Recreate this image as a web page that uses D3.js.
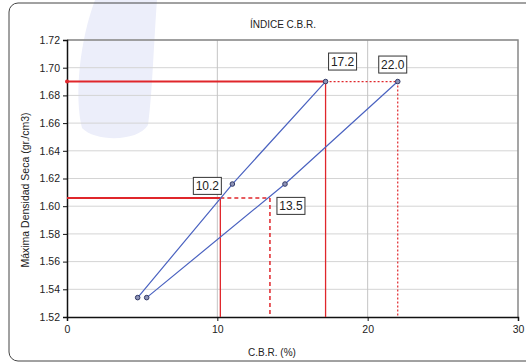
<!DOCTYPE html>
<html>
<head>
<meta charset="utf-8">
<script src="https://cdn.jsdelivr.net/npm/d3@7"></script>
<style>
  body { margin: 0; background: #fff; }
  text { font-family: "Liberation Sans", Arial, sans-serif; fill: #222; }
</style>
</head>
<body>
<div id="chart"></div>
<script>
// données
var cbr1 = [4.7, 11.0, 17.2]
var dens1 = [1.534, 1.616, 1.690]
var cbr2 = [5.3, 14.5, 22.0]
var dens2 = [1.534, 1.616, 1.690]
var yTicks = [1.52, 1.54, 1.56, 1.58, 1.60, 1.62, 1.64, 1.66, 1.68, 1.70, 1.72]
var xTicks = [0, 10, 20, 30]
// lectures CBR (valeur, densité, trait plein ?)
var lectures = [
  {cbr: 17.2, dens: 1.690, solid: true},
  {cbr: 22.0, dens: 1.690, solid: false},
  {cbr: 10.2, dens: 1.606, solid: true},
  {cbr: 13.5, dens: 1.606, solid: false}
]

var width = 526
var height = 363

var svg = d3.select("#chart")
  .append("svg")
    .attr("width", width)
    .attr("height", height)

// tache claire en fond
svg.append("path")
  .attr("d", "M95,0 L157,0 C154,40 152,100 148,125 C138,142 95,142 82,128 C74,95 80,40 95,0 Z")
  .style("fill", "#eceefa")

// cadre extérieur
svg.append("rect")
  .attr("x", 9).attr("y", 3)
  .attr("width", 530).attr("height", 358)
  .attr("rx", 9)
  .style("fill", "none")
  .style("stroke", "#444")
  .style("stroke-width", 1)

var x = d3.scaleLinear().domain([0, 30]).range([67, 518])
var y = d3.scaleLinear().domain([1.52, 1.72]).range([317, 40])

// grille
svg.append("g").selectAll("line")
  .data(yTicks.slice(1))
  .enter().append("line")
    .attr("x1", x(0)).attr("x2", x(30))
    .attr("y1", function(d){ return y(d) }).attr("y2", function(d){ return y(d) })
    .style("stroke", "#d4d4d4").style("stroke-width", 1)
svg.append("g").selectAll("line")
  .data(xTicks.slice(1, 3))
  .enter().append("line")
    .attr("x1", function(d){ return x(d) }).attr("x2", function(d){ return x(d) })
    .attr("y1", y(1.52)).attr("y2", y(1.72))
    .style("stroke", "#c4c4c4").style("stroke-width", 1)

// bord haut et droit
svg.append("path")
  .attr("d", "M" + x(0) + "," + y(1.72) + "H" + x(30) + "V" + y(1.52))
  .style("fill", "none").style("stroke", "#888").style("stroke-width", 1.5)

// axes
var yAxis = svg.append("g")
  .attr("transform", "translate(" + x(0) + ",0)")
  .call(d3.axisLeft(y).tickValues(yTicks).tickFormat(d3.format(".2f")).tickSize(4).tickPadding(3))
var xAxis = svg.append("g")
  .attr("transform", "translate(0," + y(1.52) + ")")
  .call(d3.axisBottom(x).tickValues(xTicks).tickSize(4).tickPadding(5))
;[yAxis, xAxis].forEach(function(a){
  a.select(".domain").style("stroke", "#111").style("stroke-width", 1.5)
  a.selectAll(".tick line").style("stroke", "#111")
  a.selectAll("text").style("font-size", "10.5px").style("font-family", "'Liberation Sans', Arial, sans-serif").style("fill", "#222")
})

// lignes de lecture rouges
var red = "#e0262b"
var l = svg.append("g")
function seg(x1, y1, x2, y2, w, dash) {
  l.append("line")
    .attr("x1", x1).attr("y1", y1).attr("x2", x2).attr("y2", y2)
    .style("stroke", red).style("stroke-width", w)
    .style("stroke-dasharray", dash)
}
lectures.forEach(function(d, i){
  if (d.solid) {
    seg(x(0), y(d.dens), x(d.cbr), y(d.dens), 2, null)
    seg(x(d.cbr), y(d.dens), x(d.cbr), y(1.52), 1.3, null)
  } else {
    var prev = lectures[i - 1]
    var dash = i == 1 ? "2,2" : "4,3"
    seg(x(prev.cbr), y(d.dens), x(d.cbr), y(d.dens), i == 1 ? 1.2 : 1.5, dash)
    seg(x(d.cbr), y(d.dens), x(d.cbr), y(1.52), i == 1 ? 1.2 : 1.5, dash)
  }
})
svg.append("circle").attr("cx", x(0)).attr("cy", y(1.690)).attr("r", 2).style("fill", red)

// courbes
var line = d3.line().x(function(d){ return x(d[0]) }).y(function(d){ return y(d[1]) })
var series = [d3.zip(cbr1, dens1), d3.zip(cbr2, dens2)]
series.forEach(function(s){
  svg.append("path").datum(s)
    .attr("d", line)
    .style("fill", "none").style("stroke", "#4a62c0").style("stroke-width", 1.2)
  svg.append("g").selectAll("circle")
    .data(s).enter().append("circle")
      .attr("cx", function(d){ return x(d[0]) })
      .attr("cy", function(d){ return y(d[1]) })
      .attr("r", 2.3)
      .style("fill", "#8d93b8").style("stroke", "#333a66").style("stroke-width", 1)
})

// étiquettes encadrées
var offsets = [[17, -20], [-5, -17], [-13, -12], [21, 8]]
lectures.forEach(function(d, i){
  var cx = x(d.cbr) + offsets[i][0]
  var cy = y(d.dens) + offsets[i][1]
  svg.append("rect")
    .attr("x", cx - 14).attr("y", cy - 8.5)
    .attr("width", 28).attr("height", 17)
    .style("fill", "#fff").style("stroke", "#333").style("stroke-width", 1)
  svg.append("text")
    .attr("x", cx).attr("y", cy + 4.5)
    .attr("text-anchor", "middle")
    .style("font-size", "12px")
    .text(d3.format(".1f")(d.cbr))
})

// titres
svg.append("text")
  .attr("x", 283).attr("y", 28)
  .attr("text-anchor", "middle")
  .style("font-size", "10px")
  .text("ÍNDICE C.B.R.")
svg.append("text")
  .attr("x", 272).attr("y", 356)
  .attr("text-anchor", "middle")
  .style("font-size", "10px")
  .text("C.B.R. (%)")
svg.append("text")
  .attr("transform", "translate(29,190) rotate(-90)")
  .attr("text-anchor", "middle")
  .style("font-size", "10.5px")
  .text("Máxima Densidad Seca (gr./cm3)")
</script>
</body>
</html>
